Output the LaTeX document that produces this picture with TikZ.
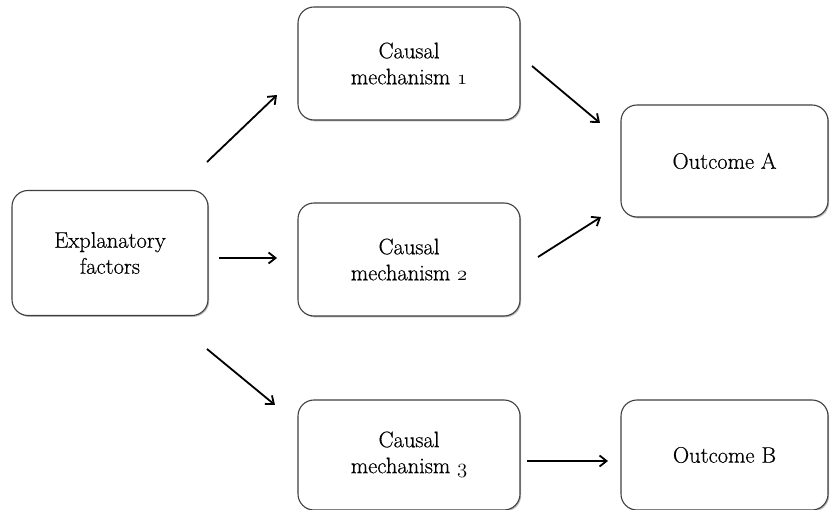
\documentclass[tikz,border=0pt]{standalone}
\usepackage{fontspec}
\usetikzlibrary{arrows.meta,shadows}
% slightly heavier Latin Modern for the box texts
\newfontfamily\boxfont{Latin Modern Roman}[FakeBold=0.5]
\newcommand{\osn}[1]{$\mathnormal{#1}$}
\begin{document}
\begin{tikzpicture}[x=1pt,y=-1pt,
  box/.style={draw=black!75,line width=1.1pt,rounded corners=16pt,fill=white,
    align=center,font=\boxfont\fontsize{22.5}{26}\selectfont,inner sep=0pt,
    drop shadow={shadow xshift=1.2pt,shadow yshift=-1.4pt,fill=black!60,opacity=0.45}},
  arr/.style={line width=1.8pt,-{Straight Barb[length=7pt,width=11pt,line width=1.8pt]}}]
\useasboundingbox (0,0) rectangle (830,510);
% boxes
\node[box,minimum width=196pt,minimum height=125pt] (ef) at (110,253) {Explanatory\\factors};
\node[box,minimum width=222pt,minimum height=113pt] (cm1) at (409,63.5) {Causal\\mechanism \osn{1}};
\node[box,minimum width=222pt,minimum height=113pt] (cm2) at (409,259.5) {Causal\\mechanism \osn{2}};
\node[box,minimum width=222pt,minimum height=110pt] (cm3) at (409,455)
  {\raisebox{-5pt}{\begin{tabular}{@{}c@{}}Causal\\mechanism \osn{3}\end{tabular}}};
\node[box,minimum width=207pt,minimum height=112pt] (oa) at (724.5,161) {Outcome A};
\node[box,minimum width=207pt,minimum height=110pt] (ob) at (724.5,455) {\raisebox{-5pt}{Outcome B}};
% arrow end points
\coordinate (a1s) at (207,162); \coordinate (a1e) at (277,95);
\coordinate (a2s) at (219,258); \coordinate (a2e) at (277,258);
\coordinate (a3s) at (207,349); \coordinate (a3e) at (275,405);
\coordinate (a4s) at (532,66);  \coordinate (a4e) at (600,123);
\coordinate (a5s) at (538,257); \coordinate (a5e) at (601,217);
\coordinate (a6s) at (527,461); \coordinate (a6e) at (608,461);
% connectors
\draw[arr] (a1s) -- (a1e);
\draw[arr] (a2s) -- (a2e);
\draw[arr] (a3s) -- (a3e);
\draw[arr] (a4s) -- (a4e);
\draw[arr] (a5s) -- (a5e);
\draw[arr] (a6s) -- (a6e);
\end{tikzpicture}
\end{document}
